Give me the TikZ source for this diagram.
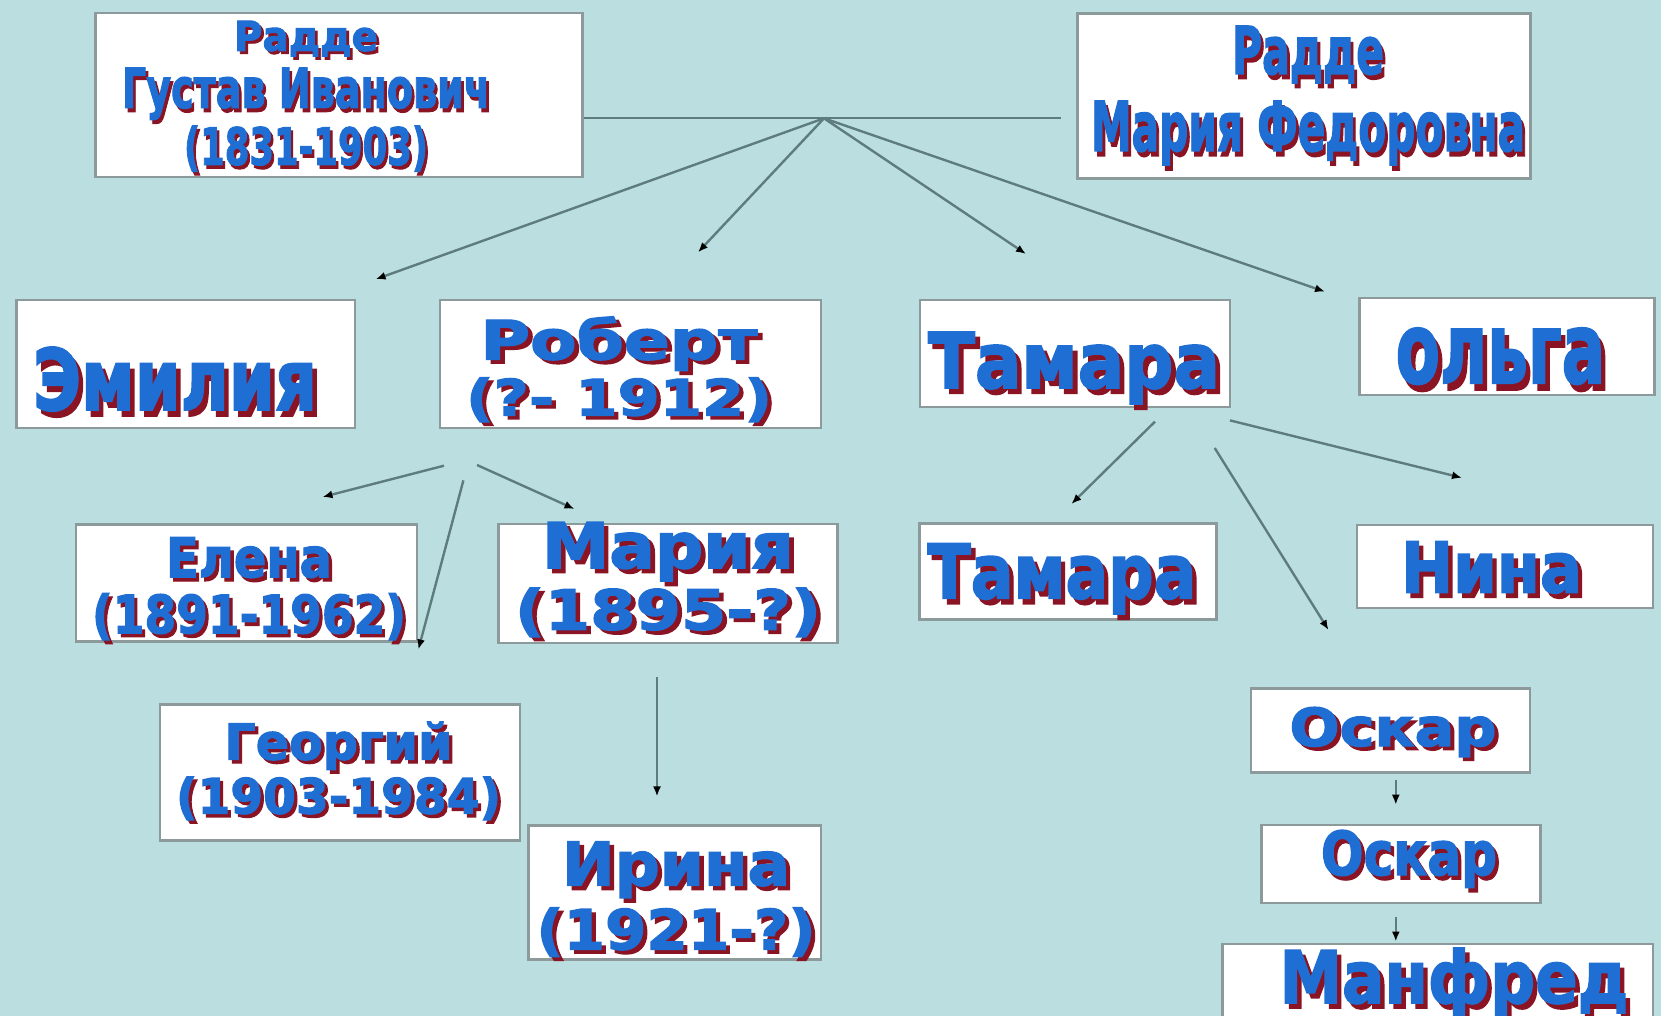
\documentclass[tikz,border=0pt]{standalone}
\usepackage{fontspec}
\usepackage{graphicx}
\usetikzlibrary{arrows.meta}

\newfontfamily\wafont{DejaVu Sans Bold}[FakeBold=2.2]

\definecolor{bgcol}{HTML}{BBDFE0}
\definecolor{boxline}{HTML}{8C9A9B}
\definecolor{linkcol}{HTML}{5E7C7E}
\definecolor{wablue}{HTML}{1F6ED4}
\definecolor{wared}{HTML}{8A1424}

% texto com sombra: largura, altura, texto
\newcommand{\wa}[3]{\resizebox{#1pt}{#2pt}{\wafont\fontsize{10}{12}\selectfont
  \rlap{\kern0.07em\raisebox{-0.07em}{\color{wared}#3}}%
  \color{wablue}#3}}

\tikzset{
  famBox/.style={draw=boxline, line width=1.4pt, fill=white, inner sep=0pt},
  famTxt/.style={inner sep=0pt, align=center, font=\fontsize{10}{#1}\selectfont},
  famTxt/.default=12,
  famLine/.style={draw=linkcol, line width=1.2pt},
  famLink/.style={famLine, -{Latex[length=5pt,width=4pt,color=black]}},
}

\begin{document}
\begin{tikzpicture}[x=0.5pt,y=-0.5pt]

% fundo
\fill[bgcol] (0,0) rectangle (1661,1016);
\useasboundingbox (0,0) rectangle (1661,1016);
\clip (0,0) rectangle (1661,1016);

% caixas
\node[famBox, minimum width=243.5pt, minimum height=82pt] (gustav) at (339,95) {};
\node[famBox, minimum width=226.3pt, minimum height=82.5pt] (mariaF) at (1304,96) {};
\node[famBox, minimum width=169.4pt, minimum height=64pt] (emilia) at (185.6,364) {};
\node[famBox, minimum width=190.5pt, minimum height=64pt] (robert) at (630.5,364) {};
\node[famBox, minimum width=155pt, minimum height=53.5pt] (tamara) at (1075,353.5) {};
\node[famBox, minimum width=147.5pt, minimum height=48.5pt] (olga) at (1507,346.5) {};
\node[famBox, minimum width=170.5pt, minimum height=58.8pt] (elena) at (246.5,583) {};
\node[famBox, minimum width=169.5pt, minimum height=59.5pt] (mariya) at (668,583.5) {};
\node[famBox, minimum width=180pt, minimum height=68pt] (georgy) at (340,772.5) {};
\node[famBox, minimum width=146.3pt, minimum height=67pt] (irina) at (674.75,892.75) {};
\node[famBox, minimum width=148.3pt, minimum height=47.8pt] (tamara2) at (1068,571.5) {};
\node[famBox, minimum width=148pt, minimum height=41.5pt] (nina) at (1505,566.5) {};
\node[famBox, minimum width=139.5pt, minimum height=41.9pt] (oskar) at (1390.5,730.6) {};
\node[famBox, minimum width=139.7pt, minimum height=39pt] (oskar2) at (1401,864) {};
\node[famBox, minimum width=215.3pt, minimum height=48pt] (manfred) at (1437.75,992) {};

% nomes
\node[famTxt=28.5] (gustavT) at (306,98)
  {\wa{72}{15}{Радде}\\ \wa{184}{20}{Густав Иванович}\\ \wa{122}{19.5}{(1831-1903)}};
\node[famTxt=38.5] (mariaFT) at (1308,98)
  {\wa{76}{24}{Радде}\\ \wa{217}{25}{Мария Федоровна}};
\node[famTxt, anchor=base] (emiliaT) at (175,410) {\wa{142}{31.5}{Эмилия}};
\node[famTxt=28] (robertT) at (619,371)
  {\wa{138.5}{21.5}{Роберт}\\ \wa{153}{19}{(?- 1912)}};
\node[famTxt, anchor=base] (tamaraT) at (1074,388) {\wa{146}{28}{Тамара}};
\node[famTxt, anchor=base] (olgaT) at (1500.5,383) {\wa{104.8}{27.5}{ольга}};
\node[famTxt=28] (elenaT) at (249,590.5)
  {\wa{83}{20}{Елена}\\ \wa{157}{20}{(1891-1962)}};
\node[famTxt=29.5] (mariyaT) at (668,581.5)
  {\wa{126}{23}{Мария}\\ \wa{153}{21}{(1895-?)}};
\node[famTxt=27] (georgyT) at (338.5,772.5)
  {\wa{114}{19}{Георгий}\\ \wa{162.5}{18.5}{(1903-1984)}};
\node[famTxt=32] (irinaT) at (676,901)
  {\wa{114}{22}{Ирина}\\ \wa{139.5}{21}{(1921-?)}};
\node[famTxt, anchor=base] (tamara2T) at (1062,598.4) {\wa{134.5}{27.5}{Тамара}};
\node[famTxt, anchor=base] (ninaT) at (1491.5,592.5) {\wa{90.5}{25.5}{Нина}};
\node[famTxt, anchor=base] (oskarT) at (1393,746) {\wa{103.5}{19.5}{Оскар}};
\node[famTxt, anchor=base] (oskar2T) at (1409,875) {\wa{88}{22.5}{Оскар}};
\node[famTxt, anchor=base] (manfredT) at (1454,1003) {\wa{174.5}{27.5}{Манфред}};

% pontos das setas
\coordinate (wed) at (824,118.3);
\coordinate (emiliaIn) at (375.6,279.3);
\coordinate (robertIn) at (698,252.3);
\coordinate (tamaraIn) at (1026,254);
\coordinate (olgaIn) at (1325,291.7);
\coordinate (robOutA) at (444,465.7);
\coordinate (robOutB) at (463.4,480.4);
\coordinate (robOutC) at (477,465);
\coordinate (elenaIn) at (322.5,497);
\coordinate (georgyIn) at (418.4,649.4);
\coordinate (mariyaIn) at (574.5,509);
\coordinate (mariyaOut) at (657,677);
\coordinate (irinaIn) at (657,796.4);
\coordinate (tamOutA) at (1155,421.6);
\coordinate (tamOutB) at (1214.7,448);
\coordinate (tamOutC) at (1230,420.4);
\coordinate (tamara2In) at (1071.4,504);
\coordinate (oskarIn) at (1328.5,630);
\coordinate (ninaIn) at (1462,477.8);
\coordinate (oskarOut) at (1395.8,780.4);
\coordinate (oskar2In) at (1395.8,804.7);
\coordinate (oskar2Out) at (1395.8,916.7);
\coordinate (manfredIn) at (1395.8,941.5);

% ligacoes
\draw[famLine, shorten >=7.5pt] (gustav.east |- wed) -- (mariaF.west |- wed);

\draw[famLink] (wed) -- (emiliaIn);
\draw[famLink] (wed) -- (robertIn);
\draw[famLink] (wed) -- (tamaraIn);
\draw[famLink] (wed) -- (olgaIn);

\draw[famLink] (robOutA) -- (elenaIn);
\draw[famLink] (robOutB) -- (georgyIn);
\draw[famLink] (robOutC) -- (mariyaIn);
\draw[famLink] (mariyaOut) -- (irinaIn);

\draw[famLink] (tamOutA) -- (tamara2In);
\draw[famLink] (tamOutB) -- (oskarIn);
\draw[famLink] (tamOutC) -- (ninaIn);

\draw[famLink] (oskarOut) -- (oskar2In);
\draw[famLink] (oskar2Out) -- (manfredIn);

\end{tikzpicture}
\end{document}
